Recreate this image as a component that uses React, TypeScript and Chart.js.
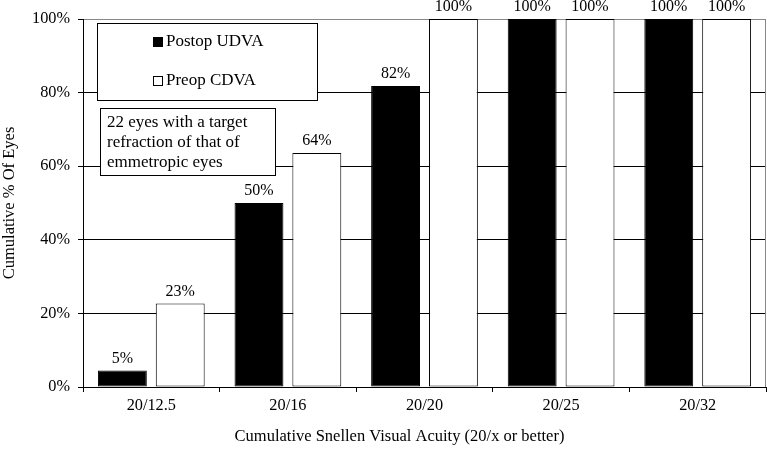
import React, { useEffect, useRef } from "react";
import { Chart, registerables } from "chart.js";
Chart.register(...registerables);

const categories = ["20/12.5", "20/16", "20/20", "20/25", "20/32"];
const postopUDVA = [4.5, 50, 81.8, 100, 100];
const preopCDVA = [22.7, 63.6, 100, 100, 100];
const seriesNames = ["Postop UDVA", "Preop CDVA"];
const noteLines = ["22 eyes with a target", "refraction of that of", "emmetropic eyes"];
const xTitle = "Cumulative Snellen Visual Acuity (20/x or better)";
const yTitle = "Cumulative % Of Eyes";

const FONT = '"Liberation Serif", "Times New Roman", serif';

const overlay = {
  id: "overlay",
  beforeDatasetsDraw(chart: any) {
    const { ctx, chartArea: a } = chart;
    ctx.save();
    ctx.strokeStyle = "#888";
    ctx.lineWidth = 1;
    ctx.beginPath();
    ctx.moveTo(a.right - 0.5, a.top);
    ctx.lineTo(a.right - 0.5, a.bottom);
    ctx.stroke();
    ctx.restore();
  },
  afterDatasetsDraw(chart: any) {
    const { ctx, chartArea: a } = chart;
    ctx.save();
    ctx.font = `16px ${FONT}`;
    ctx.fillStyle = "#000";
    ctx.textAlign = "center";
    ctx.textBaseline = "middle";
    chart.data.datasets.forEach((ds: any, i: number) => {
      const meta = chart.getDatasetMeta(i);
      meta.data.forEach((bar: any, j: number) => {
        const v = ds.data[j];
        ctx.fillText(Math.round(v) + "%", bar.x, bar.y - 12);
      });
    });

    ctx.font = `17px ${FONT}`;
    // legend box
    const L = a.left + 14, T = a.top + 4, W = 220, H = 77;
    ctx.fillStyle = "#fff";
    ctx.fillRect(L, T, W, H);
    ctx.strokeStyle = "#000";
    ctx.lineWidth = 1;
    ctx.strokeRect(L + 0.5, T + 0.5, W, H);
    const rows = [T + 19, T + 58];
    chart.data.datasets.forEach((ds: any, i: number) => {
      const cy = rows[i];
      ctx.fillStyle = ds.backgroundColor;
      ctx.fillRect(L + 56, cy - 5, 10, 10);
      ctx.strokeStyle = "#000";
      ctx.strokeRect(L + 56.5, cy - 4.5, 9, 9);
      ctx.fillStyle = "#000";
      ctx.textAlign = "left";
      ctx.fillText(ds.label, L + 69, cy);
    });

    // note box
    const L2 = a.left + 17, T2 = a.top + 89, W2 = 175, H2 = 67;
    ctx.fillStyle = "#fff";
    ctx.fillRect(L2, T2, W2, H2);
    ctx.strokeStyle = "#000";
    ctx.strokeRect(L2 + 0.5, T2 + 0.5, W2, H2);
    ctx.fillStyle = "#000";
    ctx.textAlign = "left";
    noteLines.forEach((line, k) => {
      ctx.fillText(line, L2 + 7, T2 + 15 + k * 20);
    });

    // x-axis title
    ctx.font = `16.5px ${FONT}`;
    ctx.textAlign = "center";
    ctx.fillText(xTitle, (a.left + a.right) / 2 - 25, chart.height - 12);
    ctx.restore();
  },
};

export default function App() {
  const ref = useRef<HTMLCanvasElement>(null);
  useEffect(() => {
    document.body.style.margin = "0";
    Chart.defaults.font.family = FONT;
    Chart.defaults.font.size = 16;
    Chart.defaults.color = "#000";
    const chart = new Chart(ref.current as HTMLCanvasElement, {
      type: "bar",
      data: {
        labels: categories,
        datasets: [
          {
            label: seriesNames[0],
            data: postopUDVA,
            backgroundColor: "#000",
            borderColor: "#000",
            borderWidth: 1,
            borderSkipped: false,
            categoryPercentage: 0.847,
            barPercentage: 0.845,
          },
          {
            label: seriesNames[1],
            data: preopCDVA,
            backgroundColor: "#fff",
            borderColor: "#000",
            borderWidth: 1,
            borderSkipped: false,
            categoryPercentage: 0.847,
            barPercentage: 0.845,
          },
        ],
      },
      options: {
        responsive: false,
        animation: false,
        devicePixelRatio: 1,
        layout: { padding: { top: 19, right: 1, left: 0, bottom: 0 } },
        plugins: { legend: { display: false }, tooltip: { enabled: false } },
        scales: {
          x: {
            grid: {
              offset: true,
              drawOnChartArea: false,
              drawTicks: true,
              tickLength: 5,
              color: "#000",
            },
            border: { color: "#000", width: 1 },
            ticks: { padding: 4, color: "#000", font: { size: 16.3 } },
            afterFit: (s: any) => {
              s.height = 62;
            },
          },
          y: {
            min: 0,
            max: 100,
            ticks: {
              stepSize: 20,
              padding: 8,
              color: "#000",
              font: { size: 16.3 },
              callback: (v: any) => v + "%",
            },
            grid: {
              color: (c: any) => (c.tick && c.tick.value === 100 ? "#888" : "#000"),
              tickColor: "#000",
              tickLength: 5,
              drawTicks: true,
            },
            border: { color: "#000", width: 1 },
            title: {
              display: true,
              text: yTitle,
              color: "#000",
              font: { size: 16.5 },
              padding: { top: 0, bottom: 0 },
            },
            afterFit: (s: any) => {
              s.width = 83;
            },
          },
        },
      },
      plugins: [overlay],
    });
    return () => chart.destroy();
  }, []);
  return <canvas ref={ref} width={767} height={449} />;
}
